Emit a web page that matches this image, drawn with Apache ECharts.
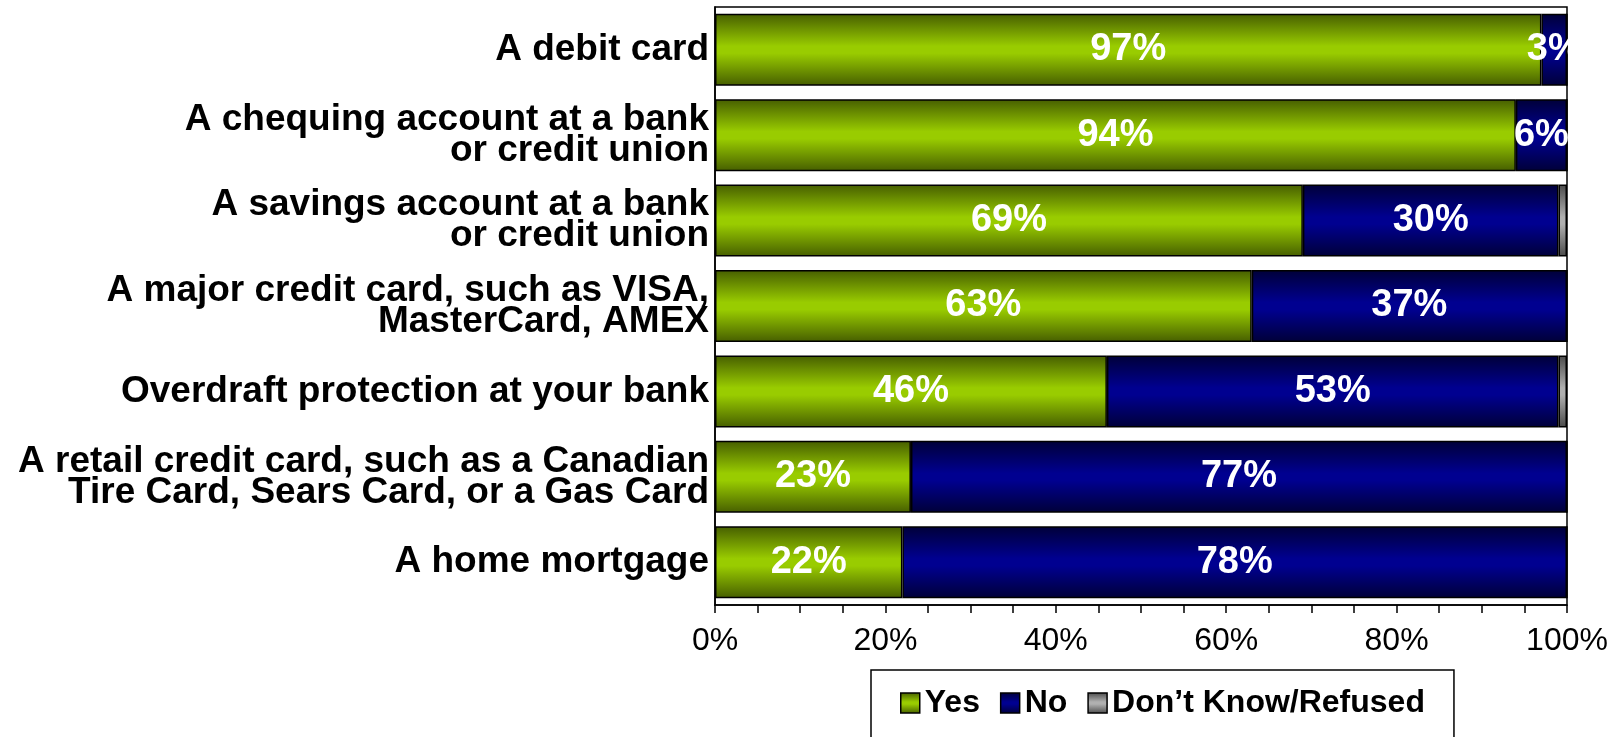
<!DOCTYPE html>
<html>
<head>
<meta charset="utf-8">
<script src="https://cdn.jsdelivr.net/npm/echarts@6/dist/echarts.min.js"></script>
<style>
  html, body { margin: 0; padding: 0; background: #fff; }
  #chart { width: 1616px; height: 737px; }
</style>
</head>
<body>
<div id="chart"></div>
<script>
// Financial products held: share answering Yes / No / Don't Know
const categories = [
  'A debit card',
  'A chequing account at a bank\nor credit union',
  'A savings account at a bank\nor credit union',
  'A major credit card, such as VISA,\nMasterCard, AMEX',
  'Overdraft protection at your bank',
  'A retail credit card, such as a Canadian\nTire Card, Sears Card, or a Gas Card',
  'A home mortgage'
];
const yesValues = [97, 94, 69, 63, 46, 23, 22];
const noValues = [3, 6, 30, 37, 53, 77, 78];
const dkValues = [0, 0, 1, 0, 1, 0, 0];
const seriesNames = ['Yes', 'No', 'Don\u2019t Know/Refused'];
const xTicks = [0, 20, 40, 60, 80, 100];

const FONT = 'Arial, "Liberation Sans", sans-serif';

// Cylinder-style shading: dark edges, bright centre line
function shade(edge, mid) {
  return new echarts.graphic.LinearGradient(0, 0, 0, 1, [
    { offset: 0, color: edge },
    { offset: 0.45, color: mid },
    { offset: 0.55, color: mid },
    { offset: 1, color: edge }
  ]);
}
const colors = [
  shade('#465e00', '#99cc00'),
  shade('#000038', '#000090'),
  shade('#4a4a4a', '#b0b0b0')
];

function barSeries(name, data, color, showLabel) {
  return {
    name: name,
    type: 'bar',
    stack: 'total',
    barWidth: 72,
    data: data,
    itemStyle: { color: color, borderColor: '#000', borderWidth: 1.5 },
    label: {
      show: showLabel,
      position: 'inside',
      formatter: '{c}%',
      color: '#fff',
      fontFamily: FONT,
      fontWeight: 'bold',
      fontSize: 38
    },
    emphasis: { disabled: true }
  };
}

const chart = echarts.init(document.getElementById('chart'), null, { renderer: 'canvas' });
chart.setOption({
  animation: false,
  backgroundColor: '#fff',
  grid: {
    left: 715, right: 49, top: 7, bottom: 132,
    show: true, borderColor: '#000', borderWidth: 1.5, backgroundColor: '#fff'
  },
  legend: {
    left: 871, top: 670,
    padding: [17, 29, 40, 29],
    borderColor: '#000', borderWidth: 1.5,
    backgroundColor: '#fff',
    itemWidth: 19, itemHeight: 20, itemGap: 20,
    icon: 'rect',
    itemStyle: { borderColor: '#000', borderWidth: 1.5 },
    textStyle: { fontFamily: FONT, fontWeight: 'bold', fontSize: 32, color: '#000' },
    data: seriesNames
  },
  xAxis: {
    type: 'value',
    min: xTicks[0], max: xTicks[xTicks.length - 1], interval: 20,
    splitLine: { show: false },
    axisLine: { show: true, lineStyle: { color: '#000', width: 1.5 } },
    axisTick: { show: true, length: 8, lineStyle: { color: '#000', width: 1.5 } },
    minorTick: { show: true, splitNumber: 4, length: 8, lineStyle: { color: '#000', width: 1.5 } },
    axisLabel: {
      margin: 20,
      formatter: '{value}%',
      fontFamily: FONT, fontSize: 32, color: '#000'
    }
  },
  yAxis: {
    type: 'category',
    inverse: true,
    data: categories,
    axisLine: { show: true, lineStyle: { color: '#000', width: 1.5 } },
    axisTick: { show: false },
    axisLabel: {
      margin: 6,
      fontFamily: FONT, fontWeight: 'bold', fontSize: 37, lineHeight: 31,
      color: '#000', align: 'right'
    }
  },
  series: [
    barSeries(seriesNames[0], yesValues, colors[0], true),
    barSeries(seriesNames[1], noValues, colors[1], true),
    barSeries(seriesNames[2], dkValues, colors[2], false)
  ]
});
</script>
</body>
</html>
